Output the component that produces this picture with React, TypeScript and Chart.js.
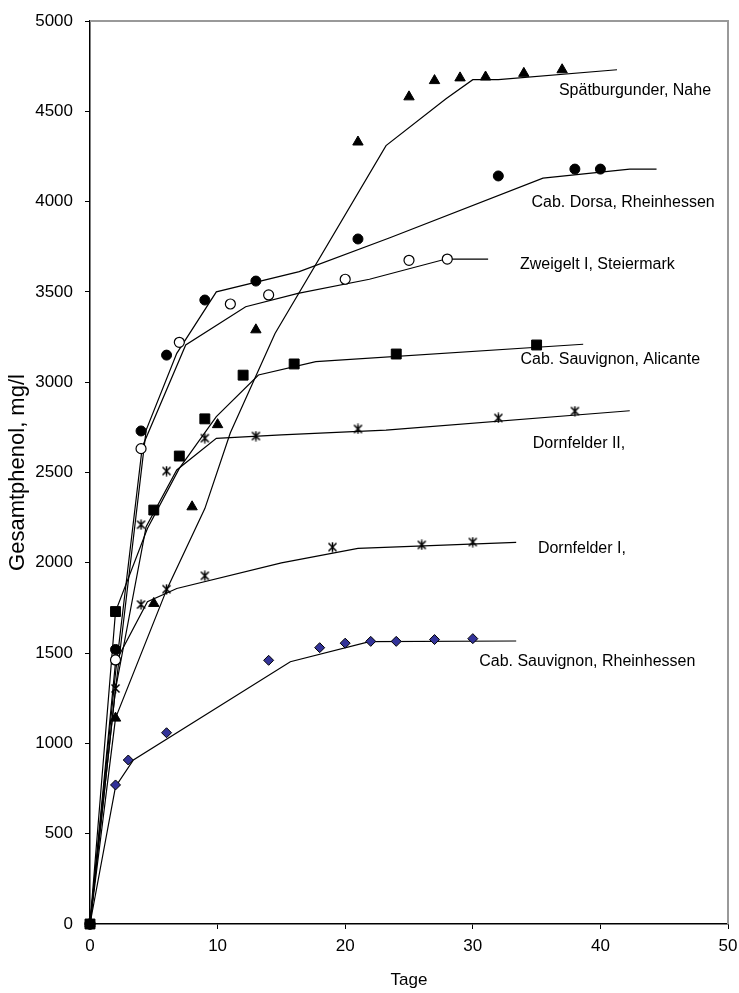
import React, { useEffect, useRef } from 'react';
import { Chart, registerables } from 'chart.js';

Chart.register(...registerables);

// ---------- measured values ----------
const spatDays = [0, 2, 5, 8, 10, 13, 21, 25, 27, 29, 31, 34, 37];
const spatValues = [0, 1140, 1775, 2310, 2765, 3290, 4330, 4580, 4670, 4685, 4690, 4710, 4730];
const spatFitDays = [0, 2, 6, 9, 11, 14.5, 23.2, 27.9, 30, 32, 41.3];
const spatFitValues = [0, 1140, 1850, 2300, 2720, 3270, 4310, 4570, 4675, 4675, 4730];

const dorsaDays = [0, 2, 4, 6, 9, 13, 21, 32, 38, 40];
const dorsaValues = [0, 1520, 2730, 3150, 3455, 3560, 3793, 4142, 4180, 4180];
const dorsaFitDays = [0, 2, 4.4, 6.8, 9.9, 16.4, 23.5, 35.5, 42.3, 44.4];
const dorsaFitValues = [0, 1300, 2735, 3160, 3500, 3612, 3800, 4130, 4180, 4180];

const zweigeltDays = [0, 2, 4, 7, 11, 14, 20, 25, 28];
const zweigeltValues = [0, 1462, 2632, 3221, 3433, 3483, 3570, 3675, 3682];
const zweigeltFitDays = [0, 2, 4.1, 7.5, 12.2, 16.3, 21.9, 27.9, 31.2];
const zweigeltFitValues = [0, 1390, 2643, 3206, 3418, 3492, 3570, 3682, 3682];

const alicanteDays = [0, 2, 5, 7, 9, 12, 16, 24, 35];
const alicanteValues = [0, 1730, 2292, 2591, 2797, 3039, 3101, 3156, 3206];
const alicanteFitDays = [0, 2, 4.5, 7, 9.9, 13.2, 17.7, 38.65];
const alicanteFitValues = [0, 1730, 2190, 2523, 2809, 3040, 3114, 3210];

const dorn2Days = [0, 2, 4, 6, 9, 13, 21, 32, 38];
const dorn2Values = [0, 1460, 2211, 2508, 2690, 2702, 2741, 2802, 2840];
const dorn2FitDays = [0, 2, 4.4, 6.8, 9.9, 15, 23.2, 42.3];
const dorn2FitValues = [0, 1300, 2200, 2514, 2689, 2708, 2735, 2842];

const dorn1Days = [0, 2, 4, 6, 9, 19, 26, 30];
const dorn1Values = [0, 1304, 1769, 1854, 1928, 2087, 2099, 2115];
const dorn1FitDays = [0, 2, 4.5, 6.8, 15, 21, 33.4];
const dorn1FitValues = [0, 1450, 1785, 1858, 2000, 2080, 2113];

const rheinDays = [0, 2, 3, 6, 14, 18, 20, 22, 24, 27, 30];
const rheinValues = [0, 770, 908, 1059, 1460, 1530, 1555, 1565, 1565, 1575, 1580];
const rheinFitDays = [0, 2, 3.4, 15.7, 21.9, 33.4];
const rheinFitValues = [0, 760, 908, 1452, 1563, 1567];

// ---------- annotation labels (data coordinates of left/middle anchor) ----------
const labelTexts = [
  'Spätburgunder, Nahe',
  'Cab. Dorsa, Rheinhessen',
  'Zweigelt I, Steiermark',
  'Cab. Sauvignon, Alicante',
  'Dornfelder II,',
  'Dornfelder I,',
  'Cab. Sauvignon, Rheinhessen',
];
const labelDays = [36.75, 34.6, 33.7, 33.74, 34.7, 35.1, 30.5];
const labelValues = [4612, 3992, 3649, 3123, 2662, 2080, 1452];

// ---------- axis ----------
const xMin = 0, xMax = 50, xStep = 10;
const yMin = 0, yMax = 5000, yStep = 500;
const xTitle = 'Tage';
const yTitle = 'Gesamtphenol, mg/l';

const FONT = "'Liberation Sans', Arial, Helvetica, sans-serif";

const pts = (xs: number[], ys: number[]) => xs.map((x, i) => ({ x, y: ys[i] }));

function makeStar(): HTMLCanvasElement {
  const c = document.createElement('canvas');
  c.width = 11;
  c.height = 11;
  const g = c.getContext('2d')!;
  g.strokeStyle = '#000';
  g.lineWidth = 1.5;
  g.beginPath();
  g.moveTo(1.5, 1.5); g.lineTo(9.5, 9.5);
  g.moveTo(9.5, 1.5); g.lineTo(1.5, 9.5);
  g.moveTo(5.5, 0.5); g.lineTo(5.5, 10.5);
  g.stroke();
  return c;
}

export default function App() {
  const ref = useRef<HTMLCanvasElement | null>(null);

  useEffect(() => {
    if (!ref.current) return;
    const star = makeStar();

    const marker = (data: any, style: any, extra: any = {}) => ({
      data,
      showLine: false,
      pointStyle: style,
      pointRadius: 5,
      pointBackgroundColor: '#000',
      pointBorderColor: '#000',
      pointBorderWidth: 1,
      clip: false,
      ...extra,
    });
    const fit = (data: any) => ({
      data,
      showLine: true,
      pointRadius: 0,
      borderColor: '#000',
      borderWidth: 1.2,
      tension: 0,
      clip: false,
    });

    const labelPlugin = {
      id: 'labels',
      afterDatasetsDraw(chart: any) {
        const { ctx, scales } = chart;
        ctx.save();
        ctx.fillStyle = '#000';
        ctx.font = `16px ${FONT}`;
        ctx.textAlign = 'left';
        ctx.textBaseline = 'middle';
        labelTexts.forEach((t, i) => {
          ctx.fillText(t, scales.x.getPixelForValue(labelDays[i]), scales.y.getPixelForValue(labelValues[i]));
        });
        ctx.restore();
      },
    };
    const framePlugin = {
      id: 'frame',
      beforeDatasetsDraw(chart: any) {
        const { ctx, chartArea } = chart;
        const { left, right, top, bottom } = chartArea;
        ctx.save();
        ctx.strokeStyle = '#999';
        ctx.lineWidth = 2;
        ctx.beginPath();
        ctx.moveTo(left, top);
        ctx.lineTo(right, top);
        ctx.lineTo(right, bottom);
        ctx.stroke();
        ctx.restore();
      },
    };

    const chart = new Chart(ref.current, {
      type: 'scatter',
      data: {
        datasets: [
          marker(pts(alicanteDays, alicanteValues), 'rect', { pointRadius: 7 }),
          marker(pts(spatDays, spatValues), 'triangle', { pointRadius: 6 }),
          marker(pts(dorsaDays, dorsaValues), 'circle'),
          marker(pts(zweigeltDays, zweigeltValues), 'circle', { pointBackgroundColor: '#fff', pointBorderWidth: 1.2 }),
          marker(pts(dorn2Days, dorn2Values), star),
          marker(pts(dorn1Days, dorn1Values), star),
          marker(pts(rheinDays, rheinValues), 'rectRot', { pointBackgroundColor: '#333399', pointRadius: 5 }),
          fit(pts(spatFitDays, spatFitValues)),
          fit(pts(dorsaFitDays, dorsaFitValues)),
          fit(pts(zweigeltFitDays, zweigeltFitValues)),
          fit(pts(alicanteFitDays, alicanteFitValues)),
          fit(pts(dorn2FitDays, dorn2FitValues)),
          fit(pts(dorn1FitDays, dorn1FitValues)),
          fit(pts(rheinFitDays, rheinFitValues)),
        ] as any,
      },
      options: {
        animation: false,
        responsive: false,
        devicePixelRatio: 1,
        layout: { padding: { top: 21, right: 11, left: 0, bottom: 0 } },
        plugins: { legend: { display: false }, tooltip: { enabled: false } },
        scales: {
          x: {
            type: 'linear',
            min: xMin,
            max: xMax,
            ticks: { stepSize: xStep, color: '#000', font: { size: 17, family: FONT }, padding: 7, callback: (v: any) => String(v) },
            grid: { display: true, drawOnChartArea: false, drawTicks: true, tickLength: 5, color: '#000' },
            border: { display: true, color: '#000', width: 1.5 },
            title: { display: true, text: xTitle, color: '#000', font: { size: 17, family: FONT }, padding: { top: 0, bottom: 2 } },
            afterFit: (s: any) => { s.height = 69; s.paddingLeft = 0; s.paddingRight = 0; },
          },
          y: {
            type: 'linear',
            min: yMin,
            max: yMax,
            ticks: { stepSize: yStep, color: '#000', font: { size: 17, family: FONT }, padding: 12, callback: (v: any) => String(v) },
            grid: { display: true, drawOnChartArea: false, drawTicks: true, tickLength: 5, color: '#000' },
            border: { display: true, color: '#000', width: 1.5 },
            title: { display: true, text: yTitle, color: '#000', font: { size: 22, family: FONT }, padding: { top: 5, bottom: 0 } },
            afterFit: (s: any) => { s.width = 90; s.paddingTop = 0; s.paddingBottom = 0; },
          },
        },
      } as any,
      plugins: [framePlugin, labelPlugin],
    });
    return () => chart.destroy();
  }, []);

  return (
    <div style={{ position: 'fixed', left: 0, top: 0, width: 739, height: 993, background: '#fff' }}>
      <canvas ref={ref} width={739} height={993} style={{ display: 'block' }} />
    </div>
  );
}
